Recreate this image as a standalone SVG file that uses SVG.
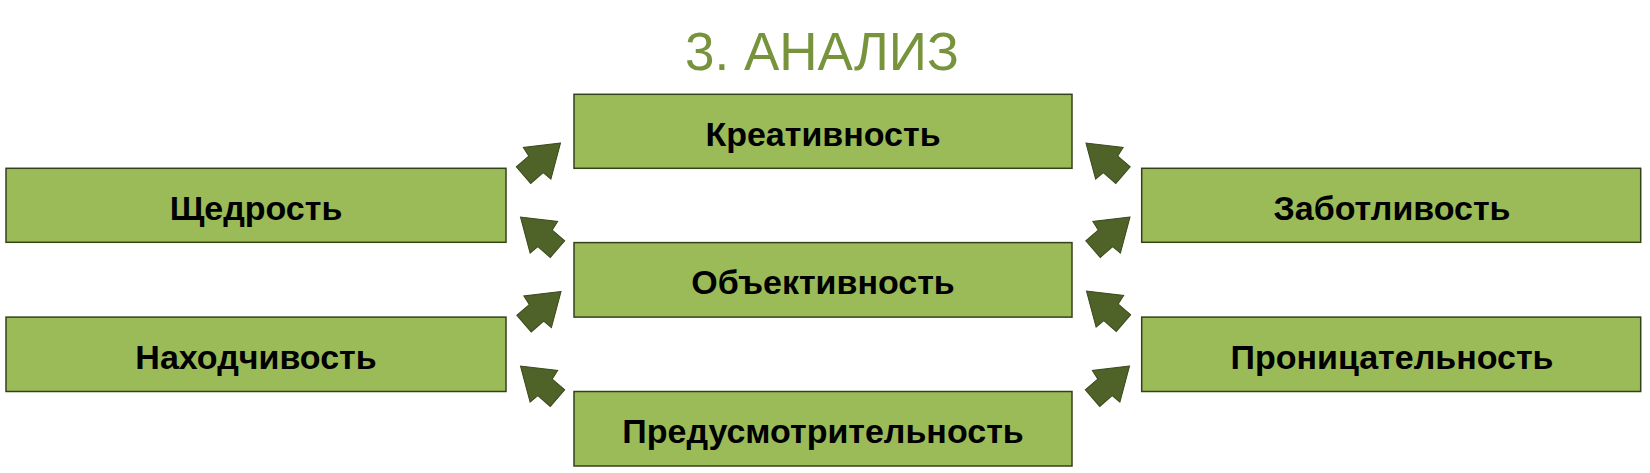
<svg xmlns="http://www.w3.org/2000/svg" width="1650" height="473" viewBox="0 0 1650 473">
  <defs>
    <style>
      .box { fill: #9BBB59; stroke: #34421a; stroke-width: 1.5; }
      .lbl { font-family: "Liberation Sans", Arial, sans-serif; font-weight: bold; font-size: 34px; fill: #000; text-anchor: middle; }
      .title { font-family: "Liberation Sans", Arial, sans-serif; font-size: 53px; fill: #77933C; text-anchor: middle; }
      .arr { fill: #4F6228; stroke: #3a4a1c; stroke-width: 1; stroke-linejoin: miter; }
    </style>
    <path id="arrow" d="M0,0 L-31,-21 L-32.5,-11 L-49,-11 L-49,11 L-32.5,11 L-31,21 Z"/>
  </defs>
  <rect width="1650" height="473" fill="#ffffff"/>

  <text class="title" x="822" y="70">3. АНАЛИЗ</text>

  <g id="node-kreativnost">
    <rect class="box" x="574" y="94.3" width="498" height="74"/>
    <text class="lbl" x="823" y="145.5">Креативность</text>
  </g>
  <g id="node-shchedrost">
    <rect class="box" x="6" y="168.3" width="500" height="74"/>
    <text class="lbl" x="256" y="219.5">Щедрость</text>
  </g>
  <g id="node-zabotlivost">
    <rect class="box" x="1141.7" y="168.3" width="499" height="74"/>
    <text class="lbl" x="1392" y="219.5">Заботливость</text>
  </g>
  <g id="node-obektivnost">
    <rect class="box" x="574" y="242.6" width="498" height="74.5"/>
    <text class="lbl" x="823" y="294">Объективность</text>
  </g>
  <g id="node-nakhodchivost">
    <rect class="box" x="6" y="317.1" width="500" height="74.4"/>
    <text class="lbl" x="256" y="368.5">Находчивость</text>
  </g>
  <g id="node-pronitsatelnost">
    <rect class="box" x="1141.7" y="317.1" width="499" height="74.4"/>
    <text class="lbl" x="1392" y="368.5">Проницательность</text>
  </g>
  <g id="node-predusmotritelnost">
    <rect class="box" x="574" y="391.5" width="498" height="74.5"/>
    <text class="lbl" x="823" y="443">Предусмотрительность</text>
  </g>

  <g id="connectors">
    <use href="#arrow" class="arr" transform="translate(560.5,143) rotate(-41)"/>
    <use href="#arrow" class="arr" transform="translate(520.5,217) rotate(-139)"/>
    <use href="#arrow" class="arr" transform="translate(561,291.5) rotate(-41)"/>
    <use href="#arrow" class="arr" transform="translate(520.5,366) rotate(-139)"/>
    <use href="#arrow" class="arr" transform="translate(1086,143) rotate(-139)"/>
    <use href="#arrow" class="arr" transform="translate(1130,217) rotate(-41)"/>
    <use href="#arrow" class="arr" transform="translate(1086.5,291) rotate(-139)"/>
    <use href="#arrow" class="arr" transform="translate(1129.5,366) rotate(-41)"/>
  </g>
</svg>
